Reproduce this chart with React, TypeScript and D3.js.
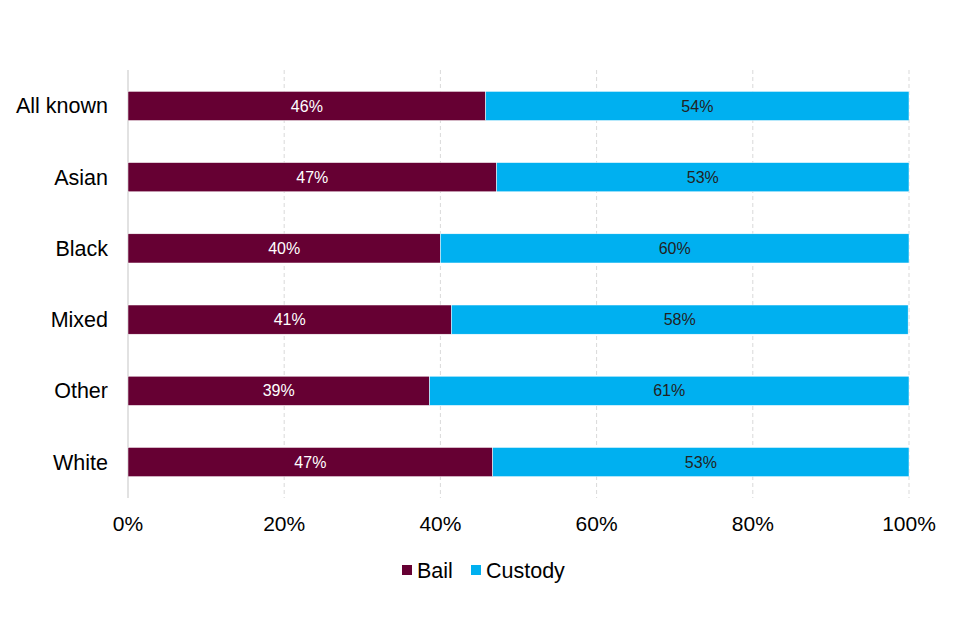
import React, { useRef, useEffect } from "react";
import * as d3 from "d3";

const categories = ["All known", "Asian", "Black", "Mixed", "Other", "White"];
const bail = [45.8, 47.2, 40.0, 41.4, 38.6, 46.7];
const custody = [54.2, 52.8, 60.0, 58.49, 61.4, 53.3];
const xTicks = [0, 20, 40, 60, 80, 100];
const seriesNames = ["Bail", "Custody"];
const colors = ["#660033", "#00b0f0"];
const labelColors = ["#ffffff", "#222222"];

const width = 960;
const height = 640;
const margin = { top: 70, right: 51, bottom: 142, left: 128 };

const App = () => {
  const ref = useRef(null);

  useEffect(() => {
    const svg = d3.select(ref.current);
    svg.selectAll("*").remove();
    const font = "Liberation Sans, Arial, sans-serif";

    const x = d3
      .scaleLinear()
      .domain([0, 100])
      .range([margin.left, width - margin.right]);

    const y = d3
      .scaleBand()
      .domain(categories)
      .range([margin.top, height - margin.bottom])
      .paddingInner(0.59)
      .paddingOuter(0.3);

    // grid
    svg
      .append("g")
      .selectAll("line")
      .data(xTicks.slice(1))
      .join("line")
      .attr("x1", (d) => x(d))
      .attr("x2", (d) => x(d))
      .attr("y1", margin.top)
      .attr("y2", height - margin.bottom)
      .attr("stroke", "#d9d9d9")
      .attr("stroke-dasharray", "4,3");

    svg
      .append("line")
      .attr("x1", x(0))
      .attr("x2", x(0))
      .attr("y1", margin.top)
      .attr("y2", height - margin.bottom)
      .attr("stroke", "#d9d9d9")
      .attr("stroke-width", 1.5);

    const rows = categories.map((c, i) => ({ cat: c, vals: [bail[i], custody[i]] }));
    const stacked = d3.stack<any>().keys(["0", "1"]).value((d, k) => d.vals[+k])(rows);

    stacked.forEach((layer, si) => {
      const g = svg.append("g");
      g.selectAll("rect")
        .data(layer)
        .join("rect")
        .attr("x", (d) => x(d[0]))
        .attr("y", (d) => y(d.data.cat))
        .attr("width", (d) => x(d[1]) - x(d[0]))
        .attr("height", y.bandwidth())
        .attr("fill", colors[si])
        .attr("stroke", "#ffffff")
        .attr("stroke-width", 0.5);
      g.selectAll("text")
        .data(layer)
        .join("text")
        .attr("x", (d) => (x(d[0]) + x(d[1])) / 2)
        .attr("y", (d) => y(d.data.cat) + y.bandwidth() / 2)
        .attr("dy", "0.35em")
        .attr("text-anchor", "middle")
        .attr("font-family", font)
        .attr("font-size", 16)
        .attr("fill", labelColors[si])
        .text((d) => Math.round(d[1] - d[0]) + "%");
    });

    // category labels
    svg
      .append("g")
      .selectAll("text")
      .data(categories)
      .join("text")
      .attr("x", 108)
      .attr("y", (d) => y(d) + y.bandwidth() / 2)
      .attr("dy", "0.35em")
      .attr("text-anchor", "end")
      .attr("font-family", font)
      .attr("font-size", 21.5)
      .attr("fill", "#000")
      .text((d) => d);

    // x tick labels
    svg
      .append("g")
      .selectAll("text")
      .data(xTicks)
      .join("text")
      .attr("x", (d) => x(d))
      .attr("y", 531)
      .attr("text-anchor", "middle")
      .attr("font-family", font)
      .attr("font-size", 21)
      .attr("fill", "#000")
      .text((d) => d + "%");

    // legend
    const legendX = [402, 471];
    const lg = svg.append("g");
    seriesNames.forEach((n, i) => {
      lg.append("rect")
        .attr("x", legendX[i])
        .attr("y", 565)
        .attr("width", 10)
        .attr("height", 10)
        .attr("fill", colors[i]);
      lg.append("text")
        .attr("x", legendX[i] + 15)
        .attr("y", 578)
        .attr("font-family", font)
        .attr("font-size", 21.5)
        .attr("fill", "#000")
        .text(n);
    });
  }, []);

  return (
    <div style={{ position: "fixed", left: 0, top: 0 }}>
      <svg ref={ref} width={width} height={height} style={{ display: "block", background: "#fff" }} />
    </div>
  );
};

export default App;
